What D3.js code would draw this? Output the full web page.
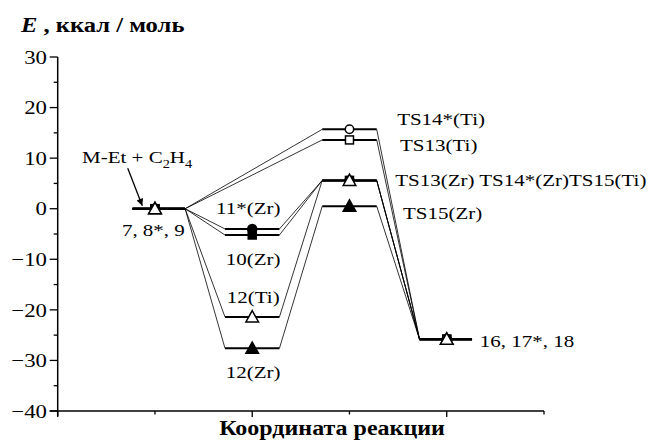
<!DOCTYPE html>
<html><head><meta charset="utf-8">
<script src="https://cdn.jsdelivr.net/npm/d3@7"></script>
<style>
html,body{margin:0;padding:0;background:#fff;}
svg{display:block;}
text{font-family:"Liberation Serif","Times New Roman",serif;fill:#000;}
</style></head>
<body><svg id="c" width="653" height="443"></svg>
<script>
// ---- data ----
const stageX = [1, 2, 3, 4];                 // reactants, intermediates, TS, products
const stageLeft = [0.77, 1.72, 2.72, 3.72];  // level line extents (x units)
const stageRight = [1.31, 2.28, 3.28, 4.26];
const seriesNames = ["TS14*(Ti)", "TS13(Ti)", "11*(Zr)", "10(Zr)", "12(Ti)", "12(Zr)"];
const reactantE = [0, 0, 0, 0, 0, 0];
const intermediateE = [null, null, -4.0, -5.2, -21.4, -27.6];
const tsE = [15.7, 13.6, 5.6, 5.6, 5.6, 0.5];
const productE = [-25.8, -25.8, -25.8, -25.8, -25.8, -25.8];
const markerShape = ["circle", "square", "circle", "square", "triangle", "triangle"];
const markerFilled = [false, false, true, true, false, true];
const drawOrder = [0, 1, 2, 3, 5, 4];
const yMajorTicks = [30, 20, 10, 0, -10, -20, -30, -40];
const yMinorTicks = [25, 15, 5, -5, -15, -25, -35];
const xMajorTicks = [0, 2, 4];
const xMinorTicks = [1, 3, 5];
const labels = [
  {t: "7, 8*, 9", x: 0.66, y: -5.4, a: "start"},
  {t: "11*(Zr)", x: 1.96, y: -1.0, a: "middle"},
  {t: "10(Zr)", x: 2.01, y: -11.2, a: "middle"},
  {t: "12(Ti)", x: 2.01, y: -18.7, a: "middle"},
  {t: "12(Zr)", x: 2.01, y: -33.5, a: "middle"},
  {t: "TS14*(Ti)", x: 3.49, y: 16.6, a: "start"},
  {t: "TS13(Ti)", x: 3.52, y: 11.4, a: "start"},
  {t: "TS13(Zr) TS14*(Zr)TS15(Ti)", x: 3.47, y: 4.5, a: "start"},
  {t: "TS15(Zr)", x: 3.55, y: -2.0, a: "start"},
  {t: "16, 17*, 18", x: 4.34, y: -27.4, a: "start"}
];
const arrowFrom = [0.72, 8.0], arrowTo = [0.87, 0.6];
const reactLabelPos = [0.25, 9.0];

// ---- layout ----
const svg = d3.select("#c");
const x = d3.scaleLinear().domain([0, 5]).range([57.7, 544]);
const y = d3.scaleLinear().domain([-40, 30]).range([411, 57]);
const FS = 17.5, SX = 1.2;
function stretchedText(px, py, str, anchor, opts) {
  opts = opts || {};
  const g = svg.append("g").attr("transform", `translate(${px},${py})`);
  const t = g.append("text").attr("transform", `scale(${SX},1)`)
    .attr("text-anchor", anchor).attr("font-size", opts.size || FS);
  if (opts.weight) t.attr("font-weight", opts.weight);
  if (opts.dy) t.attr("dy", opts.dy);
  if (str !== null) t.text(str);
  return t;
}

// axes
const ax = svg.append("g");
ax.append("line").attr("x1", x(0)).attr("x2", x(0)).attr("y1", y(30)).attr("y2", y(-40) + 5)
  .attr("stroke", "#000").attr("stroke-width", 1.5);
ax.append("line").attr("x1", x(0) - 8).attr("x2", x(5)).attr("y1", y(-40)).attr("y2", y(-40))
  .attr("stroke", "#000").attr("stroke-width", 1.5);
yMajorTicks.forEach(v => {
  ax.append("line").attr("x1", x(0) - 8).attr("x2", x(0)).attr("y1", y(v)).attr("y2", y(v))
    .attr("stroke", "#000").attr("stroke-width", 1.3);
  stretchedText(47, y(v), (v < 0 ? "\u2212" : "") + Math.abs(v), "end", {dy: "0.35em", size: 19});
});
yMinorTicks.forEach(v => {
  ax.append("line").attr("x1", x(0) - 4).attr("x2", x(0)).attr("y1", y(v)).attr("y2", y(v))
    .attr("stroke", "#000").attr("stroke-width", 1.3);
});
xMajorTicks.forEach(v => {
  ax.append("line").attr("x1", x(v)).attr("x2", x(v)).attr("y1", y(-40)).attr("y2", y(-40) + 6)
    .attr("stroke", "#000").attr("stroke-width", 1.3);
});
xMinorTicks.forEach(v => {
  ax.append("line").attr("x1", x(v)).attr("x2", x(v)).attr("y1", y(-40)).attr("y2", y(-40) + 3.5)
    .attr("stroke", "#000").attr("stroke-width", 1.3);
});

// axis titles
{
  const t = stretchedText(21, 32, null, "start", {weight: "bold", size: 20.5});
  t.append("tspan").attr("font-style", "italic").text("E");
  t.append("tspan").text(" , ккал / моль");
  stretchedText(332, 435, "Координата реакции", "middle", {weight: "bold", size: 20});
}

// series
const allE = seriesNames.map((n, i) => [reactantE[i], intermediateE[i], tsE[i], productE[i]]);
const lines = svg.append("g");
drawOrder.forEach(i => {
  const pts = [];
  allE[i].forEach((e, s) => { if (e !== null) pts.push({s, e}); });
  for (let k = 0; k < pts.length - 1; k++) {
    lines.append("line")
      .attr("x1", x(stageRight[pts[k].s])).attr("y1", y(pts[k].e))
      .attr("x2", x(stageLeft[pts[k + 1].s])).attr("y2", y(pts[k + 1].e))
      .attr("stroke", "#000").attr("stroke-width", 0.8);
  }
  pts.forEach(p => {
    lines.append("line")
      .attr("x1", x(stageLeft[p.s])).attr("x2", x(stageRight[p.s]))
      .attr("y1", y(p.e)).attr("y2", y(p.e))
      .attr("stroke", "#000").attr("stroke-width", 2);
  });
});
const marks = svg.append("g");
drawOrder.forEach(i => {
  allE[i].forEach((e, s) => {
    if (e === null) return;
    const cx = x(stageX[s]), cy = y(e);
    const fill = markerFilled[i] ? "#000" : "#fff";
    let m;
    if (markerShape[i] === "circle") {
      m = marks.append("circle").attr("cx", cx).attr("cy", cy).attr("r", markerFilled[i] ? 4.5 : 4.2);
    } else if (markerShape[i] === "square") {
      const h = 4;
      m = marks.append("rect").attr("x", cx - h).attr("y", cy - h).attr("width", 2 * h).attr("height", 2 * h);
    } else {
      m = marks.append("path").attr("d", `M${cx},${cy - 6.3}L${cx + 6.3},${cy + 5}L${cx - 6.3},${cy + 5}Z`);
    }
    m.attr("fill", fill).attr("stroke", "#000").attr("stroke-width", 1.5);
  });
});

// labels
labels.forEach(l => stretchedText(x(l.x), y(l.y), l.t, l.a));
{
  const t = stretchedText(x(reactLabelPos[0]), y(reactLabelPos[1]), null, "start");
  t.append("tspan").text("M-Et + C");
  t.append("tspan").attr("font-size", 12).attr("dy", 5).text("2");
  t.append("tspan").attr("dy", -5).text("H");
  t.append("tspan").attr("font-size", 12).attr("dy", 5).text("4");
}
// arrow
svg.append("defs").append("marker").attr("id", "ah").attr("viewBox", "0 0 10 10")
  .attr("refX", 10).attr("refY", 5).attr("markerWidth", 9).attr("markerHeight", 7)
  .attr("markerUnits", "userSpaceOnUse").attr("orient", "auto")
  .append("path").attr("d", "M0,0L10,5L0,10Z").attr("fill", "#000");
svg.append("line").attr("x1", x(arrowFrom[0])).attr("y1", y(arrowFrom[1]))
  .attr("x2", x(arrowTo[0])).attr("y2", y(arrowTo[1]))
  .attr("stroke", "#000").attr("stroke-width", 1.3).attr("marker-end", "url(#ah)");
</script></body></html>
